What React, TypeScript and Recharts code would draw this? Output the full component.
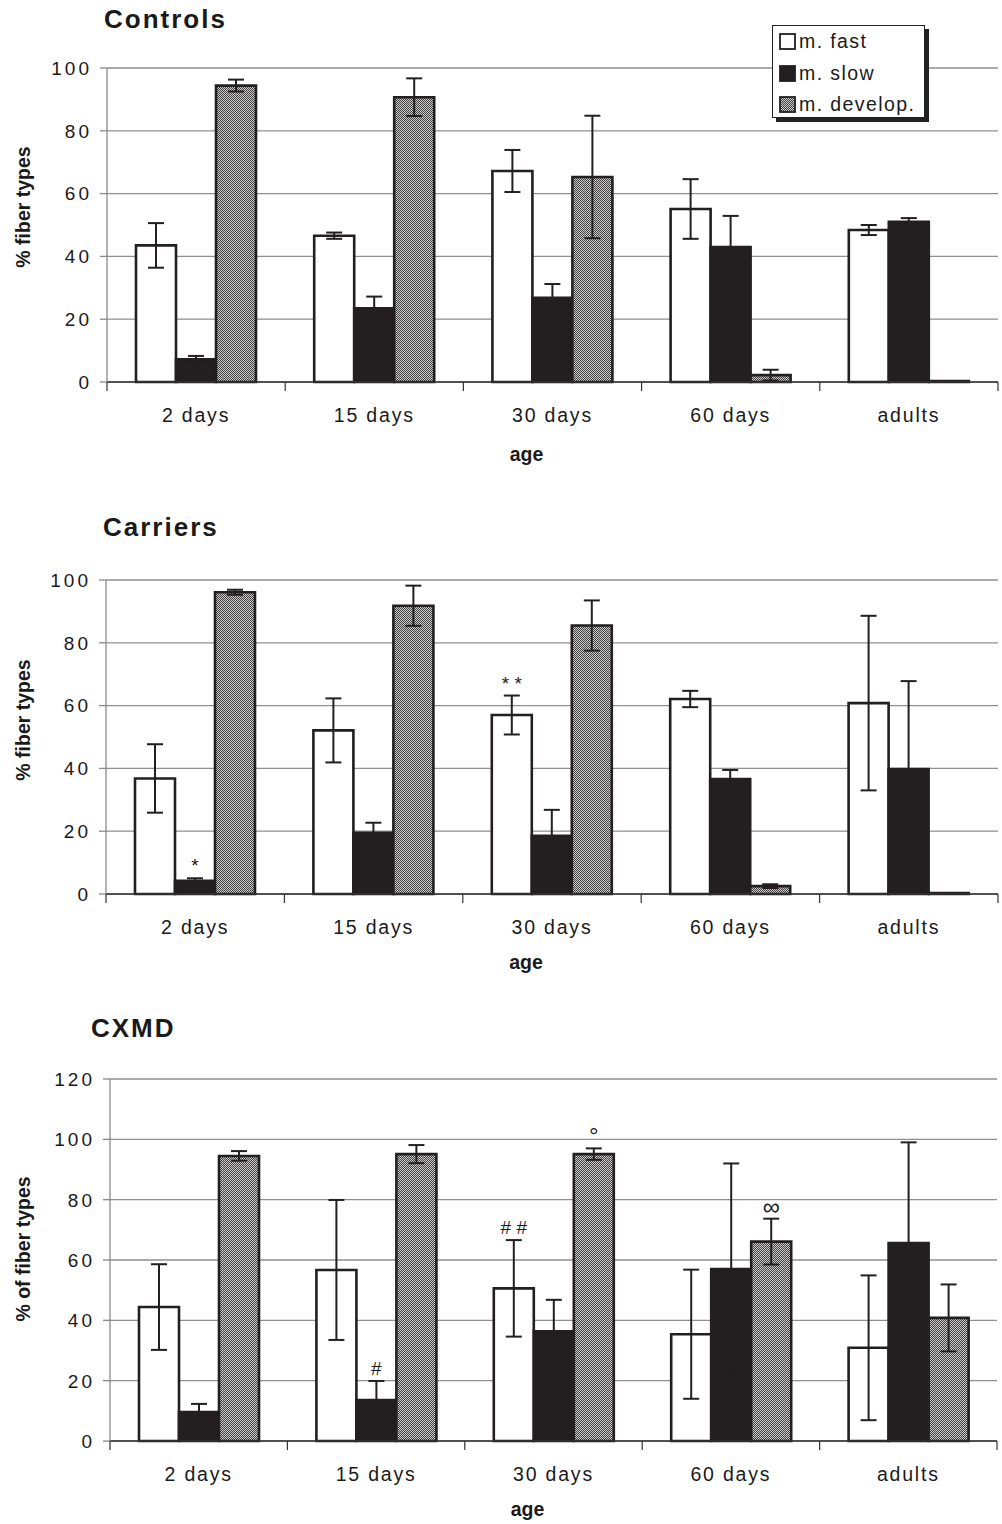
import React from "react";
import { BarChart, Bar, XAxis, YAxis, CartesianGrid, ErrorBar, LabelList, Legend } from "recharts";

const FONT = "'Liberation Sans', Arial, sans-serif";
const INK = "#231f20";

const ages = ["2 days", "15 days", "30 days", "60 days", "adults"];

// Controls
const ctrlFast = [43.5, 46.6, 67.2, 55.1, 48.4];
const ctrlFastErr = [7.1, 1.0, 6.7, 9.5, 1.6];
const ctrlSlow = [7.2, 23.5, 26.8, 43.0, 51.0];
const ctrlSlowErr = [1.1, 3.7, 4.4, 9.9, 1.2];
const ctrlDev = [94.4, 90.7, 65.3, 2.2, 0.3];
const ctrlDevErr = [1.9, 6.0, 19.5, 1.7, 0];

// Carriers
const carFast = [36.8, 52.1, 57.0, 62.1, 60.8];
const carFastErr = [10.9, 10.2, 6.2, 2.6, 27.8];
const carSlow = [4.2, 19.5, 18.5, 36.6, 39.8];
const carSlowErr = [0.8, 3.2, 8.3, 2.9, 28.0];
const carDev = [96.1, 91.8, 85.5, 2.5, 0.3];
const carDevErr = [0.8, 6.4, 8.0, 0.6, 0];
const carFastNote = ["", "", "* *", "", ""];
const carSlowNote = ["*", "", "", "", ""];

// CXMD
const cxFast = [44.4, 56.7, 50.6, 35.4, 30.9];
const cxFastErr = [14.2, 23.2, 16.0, 21.4, 24.0];
const cxSlow = [9.6, 13.6, 36.4, 57.0, 65.6];
const cxSlowErr = [2.7, 6.3, 10.4, 35.0, 33.4];
const cxDev = [94.5, 95.1, 95.1, 66.1, 40.8];
const cxDevErr = [1.6, 3.0, 1.9, 7.6, 11.1];
const cxFastNote = ["", "", "# #", "", ""];
const cxSlowNote = ["", "#", "", "", ""];
const cxDevNote = ["", "", "°", "∞", ""];

const ticks100 = [0, 20, 40, 60, 80, 100];
const ticks120 = [0, 20, 40, 60, 80, 100, 120];

const none = ["", "", "", "", ""];

function buildRows(fast: number[], fastErr: number[], slow: number[], slowErr: number[], dev: number[], devErr: number[],
  fastNote = none, slowNote = none, devNote = none) {
  return ages.map((age, i) => ({
    age,
    fast: fast[i], fastErr: fastErr[i],
    slow: slow[i], slowErr: slowErr[i],
    dev: dev[i], devErr: devErr[i],
    fastNote: fastNote[i], slowNote: slowNote[i], devNote: devNote[i],
  }));
}

const ctrlRows = buildRows(ctrlFast, ctrlFastErr, ctrlSlow, ctrlSlowErr, ctrlDev, ctrlDevErr);
const carRows = buildRows(carFast, carFastErr, carSlow, carSlowErr, carDev, carDevErr, carFastNote, carSlowNote);
const cxRows = buildRows(cxFast, cxFastErr, cxSlow, cxSlowErr, cxDev, cxDevErr, cxFastNote, cxSlowNote, cxDevNote);

function AgeTick(props: any) {
  const { x, y, payload, index, visibleTicksCount, width } = props;
  const half = payload && payload.offset > 5 ? payload.offset : width / (2 * visibleTicksCount);
  return (
    <g>
      <line x1={x - half} x2={x - half} y1={y} y2={y + 9} stroke="#333" strokeWidth={1.2} />
      {index === visibleTicksCount - 1 && (
        <line x1={x + half} x2={x + half} y1={y} y2={y + 9} stroke="#333" strokeWidth={1.2} />
      )}
      <text x={x} y={y + 40} textAnchor="middle" fontFamily={FONT} fontSize={19.5} letterSpacing={1.8} fill="#1a1a1a">
        {payload.value}
      </text>
    </g>
  );
}

function NumTick(props: any) {
  const { x, y, payload } = props;
  return (
    <text x={x + 1} y={y} dy="0.36em" textAnchor="end" fontFamily={FONT} fontSize={19} letterSpacing={3} fill="#1a1a1a">
      {payload.value}
    </text>
  );
}

const yLabel = (text: string, shift: number) => (props: any) => {
  const vb = props.viewBox || {};
  const cx = 23;
  const cy = vb.y + vb.height / 2 - shift;
  return (
    <text x={cx} y={cy} transform={`rotate(-90 ${cx} ${cy})`} textAnchor="middle" dominantBaseline="central"
      fontFamily={FONT} fontWeight="bold" fontSize={19.5} fill="#1a1a1a">
      {text}
    </text>
  );
};

const ageLabel = (shift: number, lift: number) => (props: any) => {
  const vb = props.viewBox || {};
  const cx = vb.x + vb.width / 2 - shift;
  const cy = vb.y + vb.height - lift;
  return (
    <text x={cx} y={cy} textAnchor="middle" fontFamily={FONT} fontWeight="bold" fontSize={19.5} fill="#1a1a1a">
      age
    </text>
  );
};

const noteLabel = (rows: any[], valKey: string, errKey: string) => (props: any) => {
  const { x, y, width, height, index } = props;
  const row = rows[index];
  const note = row && row[valKey + "Note"];
  if (!note) return null;
  const v = row[valKey];
  const ppu = v ? height / v : 0;
  const errTop = y - row[errKey] * ppu;
  const big = note === "°" || note === "∞";
  return (
    <text x={x + width / 2} y={errTop - (big ? 4 : 6)} textAnchor="middle" fontFamily={FONT}
      fontSize={big ? 24 : 19} fill="#1a1a1a">
      {note}
    </text>
  );
};

function Swatch({ kind }: { kind: string }) {
  return (
    <svg width={17} height={17} style={{ display: "block" }}>
      <defs>
        <pattern id="legPat" width={2} height={2} patternUnits="userSpaceOnUse">
          <rect width={2} height={2} fill="#c9c9c9" />
          <rect width={1} height={1} fill="#444" />
          <rect x={1} y={1} width={1} height={1} fill="#444" />
        </pattern>
      </defs>
      <rect x={1} y={1} width={15} height={15}
        fill={kind === "fast" ? "#fff" : kind === "slow" ? INK : "url(#legPat)"} stroke={INK} strokeWidth={1.8} />
    </svg>
  );
}

const legendItems = [
  { kind: "fast", text: "m. fast" },
  { kind: "slow", text: "m. slow" },
  { kind: "dev", text: "m. develop." },
];

function LegendBox() {
  return (
    <div style={{ background: "#fff", border: "1px solid #222", boxShadow: "4px 4px 0 #222", width: 153, height: 93,
      boxSizing: "border-box", padding: "0 0 0 6px", fontFamily: FONT, fontSize: 19.5, letterSpacing: 1.4, color: "#1a1a1a" }}>
      {legendItems.map((it) => (
        <div key={it.kind} style={{ display: "flex", alignItems: "center", height: 31.5 }}>
          <Swatch kind={it.kind} />
          <span style={{ marginLeft: 3 }}>{it.text}</span>
        </div>
      ))}
    </div>
  );
}

function Panel(props: any) {
  const { rows, top, height, left, right, plotTop, plotBottom, yTicks, yText, yShift, title, titleLeft, titleTop, patId, showLegend, ageLift } = props;
  const yMax = yTicks[yTicks.length - 1];
  return (
    <div style={{ position: "absolute", left: 0, top, width: 1002, height }}>
      <div style={{ position: "absolute", left: titleLeft, top: titleTop, fontFamily: FONT, fontWeight: "bold", fontSize: 26,
        letterSpacing: 2, lineHeight: "26px", color: "#1a1a1a", zIndex: 2 }}>
        {title}
      </div>
      <BarChart width={1002} height={height} data={rows} barGap={0} barSize={40}
        margin={{ top: plotTop, right, left: 0, bottom: height - plotBottom - 80 }}>
        <defs>
          <pattern id={patId} width={2} height={2} patternUnits="userSpaceOnUse">
            <rect width={2} height={2} fill="#c9c9c9" />
            <rect width={1} height={1} fill="#444" />
            <rect x={1} y={1} width={1} height={1} fill="#444" />
          </pattern>
        </defs>
        <CartesianGrid vertical={false} stroke="#8f8f8f" strokeWidth={1.3} />
        <XAxis dataKey="age" height={80} interval={0} tick={<AgeTick />} tickSize={0} tickMargin={0} tickLine={false}
          axisLine={{ stroke: "#333", strokeWidth: 1.3 }} label={ageLabel(26, ageLift)} />
        <YAxis width={left} domain={[0, yMax]} ticks={yTicks} interval={0} tickSize={7} tickMargin={9}
          axisLine={{ stroke: "#8a8a8a", strokeWidth: 1.3 }} tickLine={{ stroke: "#8a8a8a", strokeWidth: 1.3 }}
          tick={<NumTick />} label={yLabel(yText, yShift)} />
        {showLegend && (
          <Legend layout="horizontal" verticalAlign="middle" align="center"
            wrapperStyle={{ left: 772, top: 25, width: 157, height: 97 }} content={() => <LegendBox />} />
        )}
        <Bar dataKey="fast" name="m. fast" fill="#fff" stroke={INK} strokeWidth={2.6} isAnimationActive={false}>
          <ErrorBar dataKey="fastErr" width={8} stroke={INK} strokeWidth={2} />
          <LabelList dataKey="fastNote" content={noteLabel(rows, "fast", "fastErr")} />
        </Bar>
        <Bar dataKey="slow" name="m. slow" fill={INK} stroke={INK} strokeWidth={2.6} isAnimationActive={false}>
          <ErrorBar dataKey="slowErr" width={8} stroke={INK} strokeWidth={2} />
          <LabelList dataKey="slowNote" content={noteLabel(rows, "slow", "slowErr")} />
        </Bar>
        <Bar dataKey="dev" name="m. develop." fill={`url(#${patId})`} stroke={INK} strokeWidth={2.6} isAnimationActive={false}>
          <ErrorBar dataKey="devErr" width={8} stroke={INK} strokeWidth={2} />
          <LabelList dataKey="devNote" content={noteLabel(rows, "dev", "devErr")} />
        </Bar>
      </BarChart>
    </div>
  );
}

export default function App() {
  return (
    <div style={{ position: "absolute", left: 0, top: 0, width: 1002, height: 1524, background: "#fff" }}>
      <Panel rows={ctrlRows} top={0} height={480} left={107} right={4} plotTop={68} plotBottom={382}
        yTicks={ticks100} yText="% fiber types" yShift={18} title="Controls" titleLeft={104} titleTop={6}
        patId="patCtrl" showLegend ageLift={1} />
      <Panel rows={carRows} top={512} height={470} left={106} right={4} plotTop={68} plotBottom={382}
        yTicks={ticks100} yText="% fiber types" yShift={17} title="Carriers" titleLeft={103} titleTop={2}
        patId="patCar" ageLift={5} />
      <Panel rows={cxRows} top={1011} height={513} left={110} right={5} plotTop={68} plotBottom={430}
        yTicks={ticks120} yText="% of fiber types" yShift={11} title="CXMD" titleLeft={91} titleTop={4}
        patId="patCx" ageLift={5} />
    </div>
  );
}
